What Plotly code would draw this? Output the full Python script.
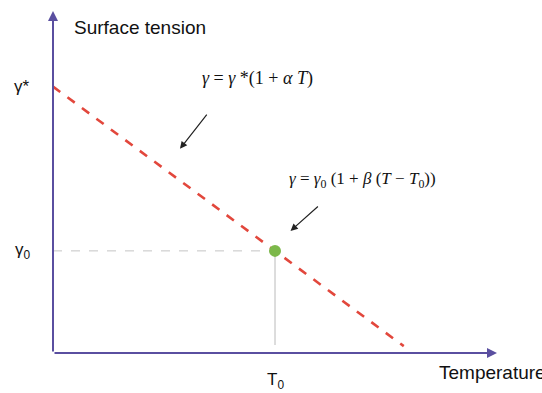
import plotly.graph_objects as go

# Schematic values (arbitrary units)
gamma_star = 6.0      # surface tension at T = 0
T0 = 5.0              # reference temperature
gamma0 = 2.3          # surface tension at T0
T_line = [0.0, 7.9]   # extent of the linear law
x_axis_end = 10.0
y_axis_end = 7.7

slope = (gamma0 - gamma_star) / T0
gamma_line = [gamma_star + slope * t for t in T_line]

axis_color = "#5a4fa0"
red = "#e2473c"
green = "#7cb84a"

fig = go.Figure()

# reference guides at (T0, gamma0)
fig.add_trace(go.Scatter(x=[0, T0], y=[gamma0, gamma0], mode="lines",
                         line=dict(color="#c4c4c4", width=1, dash="dash"),
                         hoverinfo="skip"))
fig.add_trace(go.Scatter(x=[T0, T0], y=[gamma0, 0.18], mode="lines",
                         line=dict(color="#a8a8a8", width=0.8),
                         hoverinfo="skip"))

# linear law
fig.add_trace(go.Scatter(x=T_line, y=gamma_line, mode="lines",
                         line=dict(color=red, width=2.6, dash="dash"),
                         hoverinfo="skip"))
fig.add_trace(go.Scatter(x=[T0], y=[gamma0], mode="markers",
                         marker=dict(color=green, size=12),
                         hoverinfo="skip"))

ann = []
# axes with arrowheads
ann.append(dict(x=0, y=y_axis_end, ax=0, ay=0, xref="x", yref="y",
                axref="x", ayref="y", showarrow=True, arrowhead=2,
                arrowsize=1, arrowwidth=2, arrowcolor=axis_color, text=""))
ann.append(dict(x=x_axis_end, y=0, ax=0, ay=0, xref="x", yref="y",
                axref="x", ayref="y", showarrow=True, arrowhead=2,
                arrowsize=1, arrowwidth=2, arrowcolor=axis_color, text=""))

# pointer arrows to the line
ann.append(dict(x=2.86, y=4.6, ax=3.49, ay=5.4, xref="x", yref="y",
                axref="x", ayref="y", showarrow=True, arrowhead=2,
                arrowsize=1.2, arrowwidth=1.2, arrowcolor="#222", text=""))
ann.append(dict(x=5.35, y=2.75, ax=6.0, ay=3.33, xref="x", yref="y",
                axref="x", ayref="y", showarrow=True, arrowhead=2,
                arrowsize=1.2, arrowwidth=1.2, arrowcolor="#222", text=""))

sans = "Liberation Sans, Arial, sans-serif"
serif = "Liberation Serif, Times New Roman, serif"

ann.append(dict(x=0.43, y=7.34, xref="x", yref="y", showarrow=False,
                text="Surface tension", xanchor="left",
                font=dict(family=sans, size=19, color="#111")))
ann.append(dict(x=-0.47, y=gamma_star, xref="x", yref="y",
                showarrow=False, text="γ*", xanchor="right",
                font=dict(family=sans, size=17, color="#111")))
ann.append(dict(x=-0.45, y=gamma0, xref="x", yref="y", showarrow=False,
                text="γ<sub>0</sub>", xanchor="right",
                font=dict(family=sans, size=17, color="#111")))
ann.append(dict(x=T0, y=-0.62, xref="x", yref="y", showarrow=False,
                text="T<sub>0</sub>",
                font=dict(family=sans, size=17, color="#111")))
ann.append(dict(x=8.65, y=-0.43, xref="x", yref="y", showarrow=False,
                text="Temperature", xanchor="left",
                font=dict(family=sans, size=19, color="#111")))

ann.append(dict(x=4.6, y=6.19, xref="x", yref="y", showarrow=False,
                text="<i>γ</i> = <i>γ</i> *(1 + <i>α T</i>)",
                font=dict(family=serif, size=18, color="#111")))
ann.append(dict(x=6.98, y=3.9, xref="x", yref="y", showarrow=False,
                text="<i>γ</i> = <i>γ</i><sub>0</sub> (1 + <i>β</i> (<i>T</i> − <i>T</i><sub>0</sub>))",
                font=dict(family=serif, size=17, color="#111")))

px_per_unit = 44.4
x0_px, y0_px = 53, 353
fig.update_layout(
    width=542, height=393,
    margin=dict(l=0, r=0, t=0, b=0),
    paper_bgcolor="white", plot_bgcolor="white",
    showlegend=False,
    annotations=ann,
    xaxis=dict(range=[-x0_px / px_per_unit, (542 - x0_px) / px_per_unit],
               visible=False, fixedrange=True),
    yaxis=dict(range=[-(393 - y0_px) / px_per_unit, y0_px / px_per_unit],
               visible=False, fixedrange=True),
)

fig.write_html("out.html")
